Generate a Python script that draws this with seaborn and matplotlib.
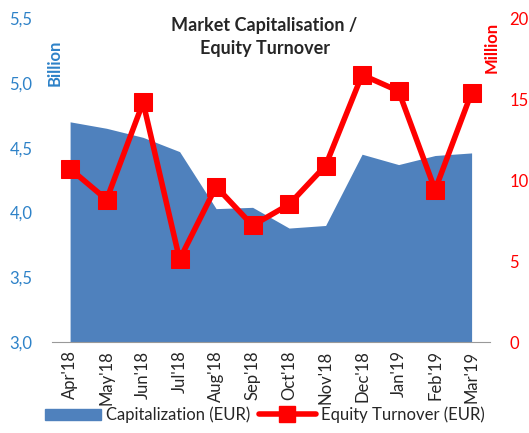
import pandas as pd
import seaborn as sns
import matplotlib.pyplot as plt
from matplotlib.lines import Line2D
from matplotlib.patches import Patch

months = ["Apr'18", "May'18", "Jun'18", "Jul'18", "Aug'18", "Sep'18",
          "Oct'18", "Nov'18", "Dec'18", "Jan'19", "Feb'19", "Mar'19"]
capitalization = [4.70, 4.65, 4.58, 4.47, 4.03, 4.04, 3.88, 3.90, 4.45, 4.37, 4.44, 4.46]
turnover = [10.7, 8.8, 14.8, 5.1, 9.6, 7.2, 8.5, 10.9, 16.5, 15.5, 9.4, 15.4]

BLUE = "#4F81BD"
TICK_BLUE = "#2E82C8"
RED = "#FF0000"

sns.set_style("white")
plt.rcParams['font.family'] = ['Lato', 'DejaVu Sans']

df = pd.DataFrame({'month': months, 'pos': range(len(months)),
                   'cap': capitalization, 'turn': turnover})

fig = plt.figure(figsize=(5.29, 4.33), dpi=100)
ax = fig.add_axes([0.098, 0.21, 0.828, 0.748])
ax.fill_between(df['pos'], 3.0, df['cap'], color=BLUE, lw=0)
ax.set_ylim(3.0, 5.5)
ax.set_xlim(-0.5, 11.5)
ax.set_yticks([3.0, 3.5, 4.0, 4.5, 5.0, 5.5])
ax.set_yticklabels(["3,0", "3,5", "4,0", "4,5", "5,0", "5,5"], color=TICK_BLUE, fontsize=12)
ax.set_xticks(df['pos'])
ax.set_xticklabels(months, rotation=90, fontsize=12)
ax.set_xticks([p - 0.5 for p in range(13)], minor=True)
ax.tick_params(axis='x', which='major', length=0, pad=6)
ax.tick_params(axis='x', which='minor', length=5, color='#999999', width=1, direction='out')
ax.tick_params(axis='y', length=0, pad=14)
for s in ['left', 'right', 'top']:
    ax.spines[s].set_visible(False)
ax.spines['bottom'].set_color('#999999')

ax2 = ax.twinx()
sns.lineplot(data=df, x='pos', y='turn', ax=ax2, color=RED, lw=4,
             marker='s', markersize=13, markeredgecolor=RED)
ax2.set_ylim(0, 20)
ax2.set_xlim(-0.5, 11.5)
ax2.set_yticks([0, 5, 10, 15, 20])
ax2.set_yticklabels(["0", "5", "10", "15", "20"], color=RED, fontsize=12)
ax2.tick_params(axis='y', length=0, pad=14)
ax2.set_ylabel('')
ax2.set_xlabel('')
for s in ['left', 'right', 'top', 'bottom']:
    ax2.spines[s].set_visible(False)

ax.text(0.007, 0.935, "Billion", transform=ax.transAxes, rotation=90, color=TICK_BLUE,
        fontsize=12, fontweight='bold', va='top', ha='center')
ax2.text(1.005, 0.99, "Million", transform=ax2.transAxes, rotation=90, color=RED,
         fontsize=12, fontweight='bold', va='top', ha='center')
fig.text(0.5, 0.915, "Market Capitalisation /\nEquity Turnover", ha='center', va='center',
         fontsize=13, fontweight='bold', linespacing=1.4)

handles = [Patch(color=BLUE, label='Capitalization (EUR)'),
           Line2D([0], [0], color=RED, lw=4, marker='s', markersize=12, label='Equity Turnover (EUR)')]
fig.legend(handles=handles, loc='lower center', bbox_to_anchor=(0.5, -0.012), ncol=2,
           frameon=False, fontsize=12, handlelength=3.4, columnspacing=0.5, handletextpad=0.3)

fig.savefig('out.png', dpi=100)
